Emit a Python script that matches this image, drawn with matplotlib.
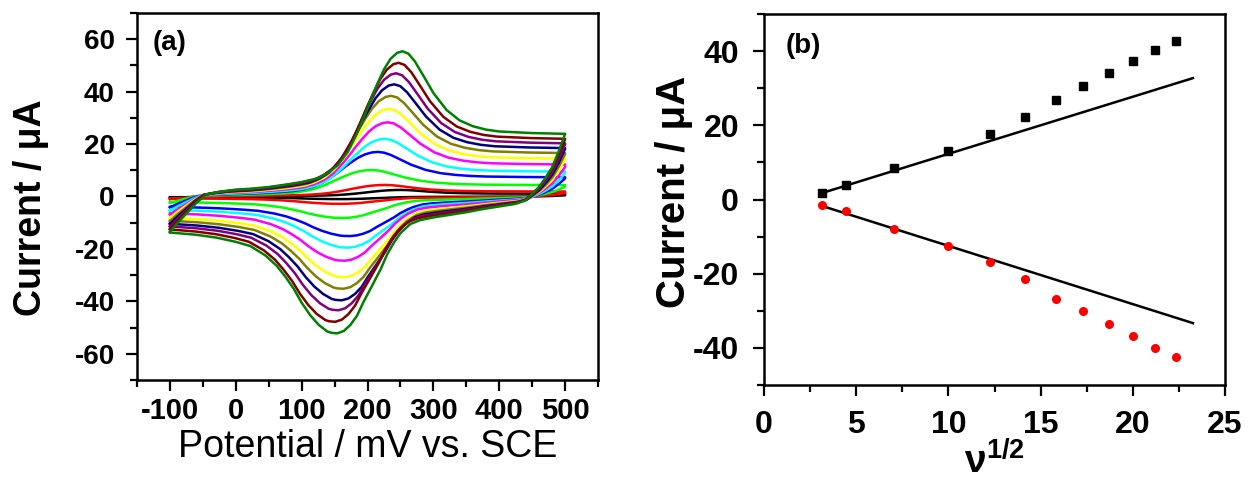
import numpy as np
import matplotlib
matplotlib.use("Agg")
import matplotlib.pyplot as plt
from matplotlib.ticker import MultipleLocator

plt.rcParams['font.family'] = ['Liberation Sans', 'DejaVu Sans']
plt.rcParams['mathtext.fontset'] = 'custom'
plt.rcParams['mathtext.rm'] = 'Liberation Sans'
plt.rcParams['mathtext.bf'] = 'Liberation Sans:bold'
plt.rcParams['mathtext.it'] = 'Liberation Sans:italic'
plt.rcParams['axes.unicode_minus'] = False

# (a) outermost CV (500 mV/s), forward and reverse sweeps
fwd_E = [-100, -90, -75, -60, -45, -25, 0, 25, 50, 75, 100, 125, 140, 155, 170, 185,
         195, 205, 215, 225, 235, 245, 253, 262, 272, 285, 300, 320, 340, 360, 380,
         400, 450, 500]
fwd_i = [-13.5, -10.5, -6.5, -2.5, 0.8, 1.8, 2.6, 3.0, 3.6, 4.5, 5.5, 7.0, 9.0, 12.0,
         17.0, 24.5, 30.5, 37.0, 43.0, 48.5, 52.5, 54.8, 55.4, 54.5, 51.5, 46.0, 39.5,
         33.0, 29.0, 26.8, 25.5, 24.8, 24.2, 23.9]
rev_E = [500, 490, 480, 470, 460, 450, 440, 425, 400, 375, 350, 325, 300, 280, 265,
         250, 240, 230, 220, 207, 194, 184, 174, 164, 154, 145, 139, 126, 113, 100, 88,
         75, 62, 45, 22, 0, -29, -60, -97, -100]
rev_i = [23.9, 17.0, 11.0, 7.0, 3.5, 1.0, -1.5, -2.8, -3.8, -4.8, -6.0, -7.0, -8.0,
         -9.0, -10.5, -14.0, -17.6, -22.0, -27.7, -34.0, -40.2, -45.5, -49.0, -51.3,
         -52.2, -52.0, -51.5, -49.0, -45.3, -40.5, -35.2, -30.5, -26.4, -22.5, -18.9,
         -17.3, -15.7, -14.6, -13.8, -13.7]

# one entry per scan rate, inner to outer
cv_colors = ['#000000', '#ff0000', '#00ff00', '#0000ff', '#00ffff', '#ff00ff',
             '#ffff00', '#808000', '#000080', '#800080', '#800000', '#008000']
peak_a_E = [250, 225, 204, 214, 225, 230, 232, 235, 240, 243, 247, 253]
peak_a_i = [2.5, 4.4, 10.1, 17.0, 22.0, 28.3, 33.4, 38.4, 42.8, 47.0, 51.0, 55.4]
peak_c_E = [160, 160, 164, 174, 172, 166, 166, 164, 161, 156, 151, 154]
peak_c_i = [-1.0, -2.8, -8.2, -15.1, -19.5, -24.5, -30.8, -35.2, -39.6, -43.4, -47.8, -52.2]

# (b) peak currents vs square root of scan rate
scan_rate = [10, 20, 50, 100, 150, 200, 250, 300, 350, 400, 450, 500]
ipa = [1.8, 3.8, 8.6, 13.2, 17.6, 22.3, 26.7, 30.6, 34.0, 37.3, 40.3, 42.6]
ipc = [-1.6, -3.2, -7.9, -12.6, -16.9, -21.4, -26.7, -30.1, -33.5, -36.9, -39.9, -42.5]
fit_a = (1.54, -3.1)
fit_c = (-1.57, 3.2)
fit_range = [3.16, 23.26]


def shift_peak(E, d):
    # moves the peak region, leaves the switching potentials in place
    E = np.asarray(E, dtype=float)
    return E + d * np.clip(np.sin(np.pi * (E + 100) / 600), 0, None)


fig = plt.figure(figsize=(12.49, 4.9), dpi=100)
ax1 = fig.add_axes([0.1097, 0.2245, 0.3691, 0.749])
ax2 = fig.add_axes([0.6117, 0.2143, 0.3691, 0.7571])

ref_a = max(fwd_i)
ref_c = min(rev_i)
ref_Ea = fwd_E[int(np.argmax(fwd_i))]
ref_Ec = rev_E[int(np.argmin(rev_i))]
for k, col in enumerate(cv_colors):
    Ef = shift_peak(fwd_E, peak_a_E[k] - ref_Ea)
    If = np.array(fwd_i) * peak_a_i[k] / ref_a
    Er = shift_peak(rev_E, peak_c_E[k] - ref_Ec)
    Ir = np.array(rev_i) * peak_c_i[k] / ref_c
    ax1.plot(np.concatenate([Ef, Er]), np.concatenate([If, Ir]), color=col, lw=1.8,
             zorder=2 + k)

ax1.set_xlim(-150, 550)
ax1.set_ylim(-70, 70)
ax1.xaxis.set_major_locator(MultipleLocator(100))
ax1.xaxis.set_minor_locator(MultipleLocator(50))
ax1.yaxis.set_major_locator(MultipleLocator(20))
ax1.yaxis.set_minor_locator(MultipleLocator(10))
ax1.tick_params(axis='x', labelsize=21, pad=4)
ax1.tick_params(axis='y', labelsize=20, pad=8)
ax1.set_xlabel('Potential / mV vs. SCE', fontsize=27, labelpad=3)
ax1.set_ylabel('Current / \u03bcA', fontsize=27, fontweight='bold')
ax1.yaxis.set_label_coords(-0.19, 0.47)
ax1.text(0.033, 0.955, '(a)', transform=ax1.transAxes, fontsize=20,
         fontweight='bold', va='top')

x_b = np.sqrt(scan_rate)
ax2.plot(x_b, ipa, 's', color='black', ms=5.5, zorder=3)
ax2.plot(x_b, ipc, 'o', color='red', ms=5.5, zorder=3)
fx = np.array(fit_range)
ax2.plot(fx, fit_a[0] * fx + fit_a[1], color='black', lw=1.8)
ax2.plot(fx, fit_c[0] * fx + fit_c[1], color='black', lw=1.8)
ax2.set_xlim(0, 25)
ax2.set_ylim(-50, 50)
ax2.xaxis.set_major_locator(MultipleLocator(5))
ax2.xaxis.set_minor_locator(MultipleLocator(2.5))
ax2.yaxis.set_major_locator(MultipleLocator(20))
ax2.yaxis.set_minor_locator(MultipleLocator(10))
ax2.tick_params(axis='both', labelsize=23, pad=10)
ax2.set_xlabel(r'$\mathbf{\nu}^{\mathbf{1/2}}$', fontsize=28, labelpad=2)
ax2.set_ylabel('Current / \u03bcA', fontsize=29, fontweight='bold')
ax2.yaxis.set_label_coords(-0.155, 0.52)
ax2.text(0.046, 0.95, '(b)', transform=ax2.transAxes, fontsize=20,
         fontweight='bold', va='top')

for ax in (ax1, ax2):
    for sp in ax.spines.values():
        sp.set_linewidth(1.8)
    ax.tick_params(which='major', direction='out', length=8, width=1.6)
    ax.tick_params(which='minor', direction='out', length=5, width=1.6)
    for lab in ax.get_xticklabels() + ax.get_yticklabels():
        lab.set_fontweight('bold')

fig.savefig('out.png', dpi=100)
